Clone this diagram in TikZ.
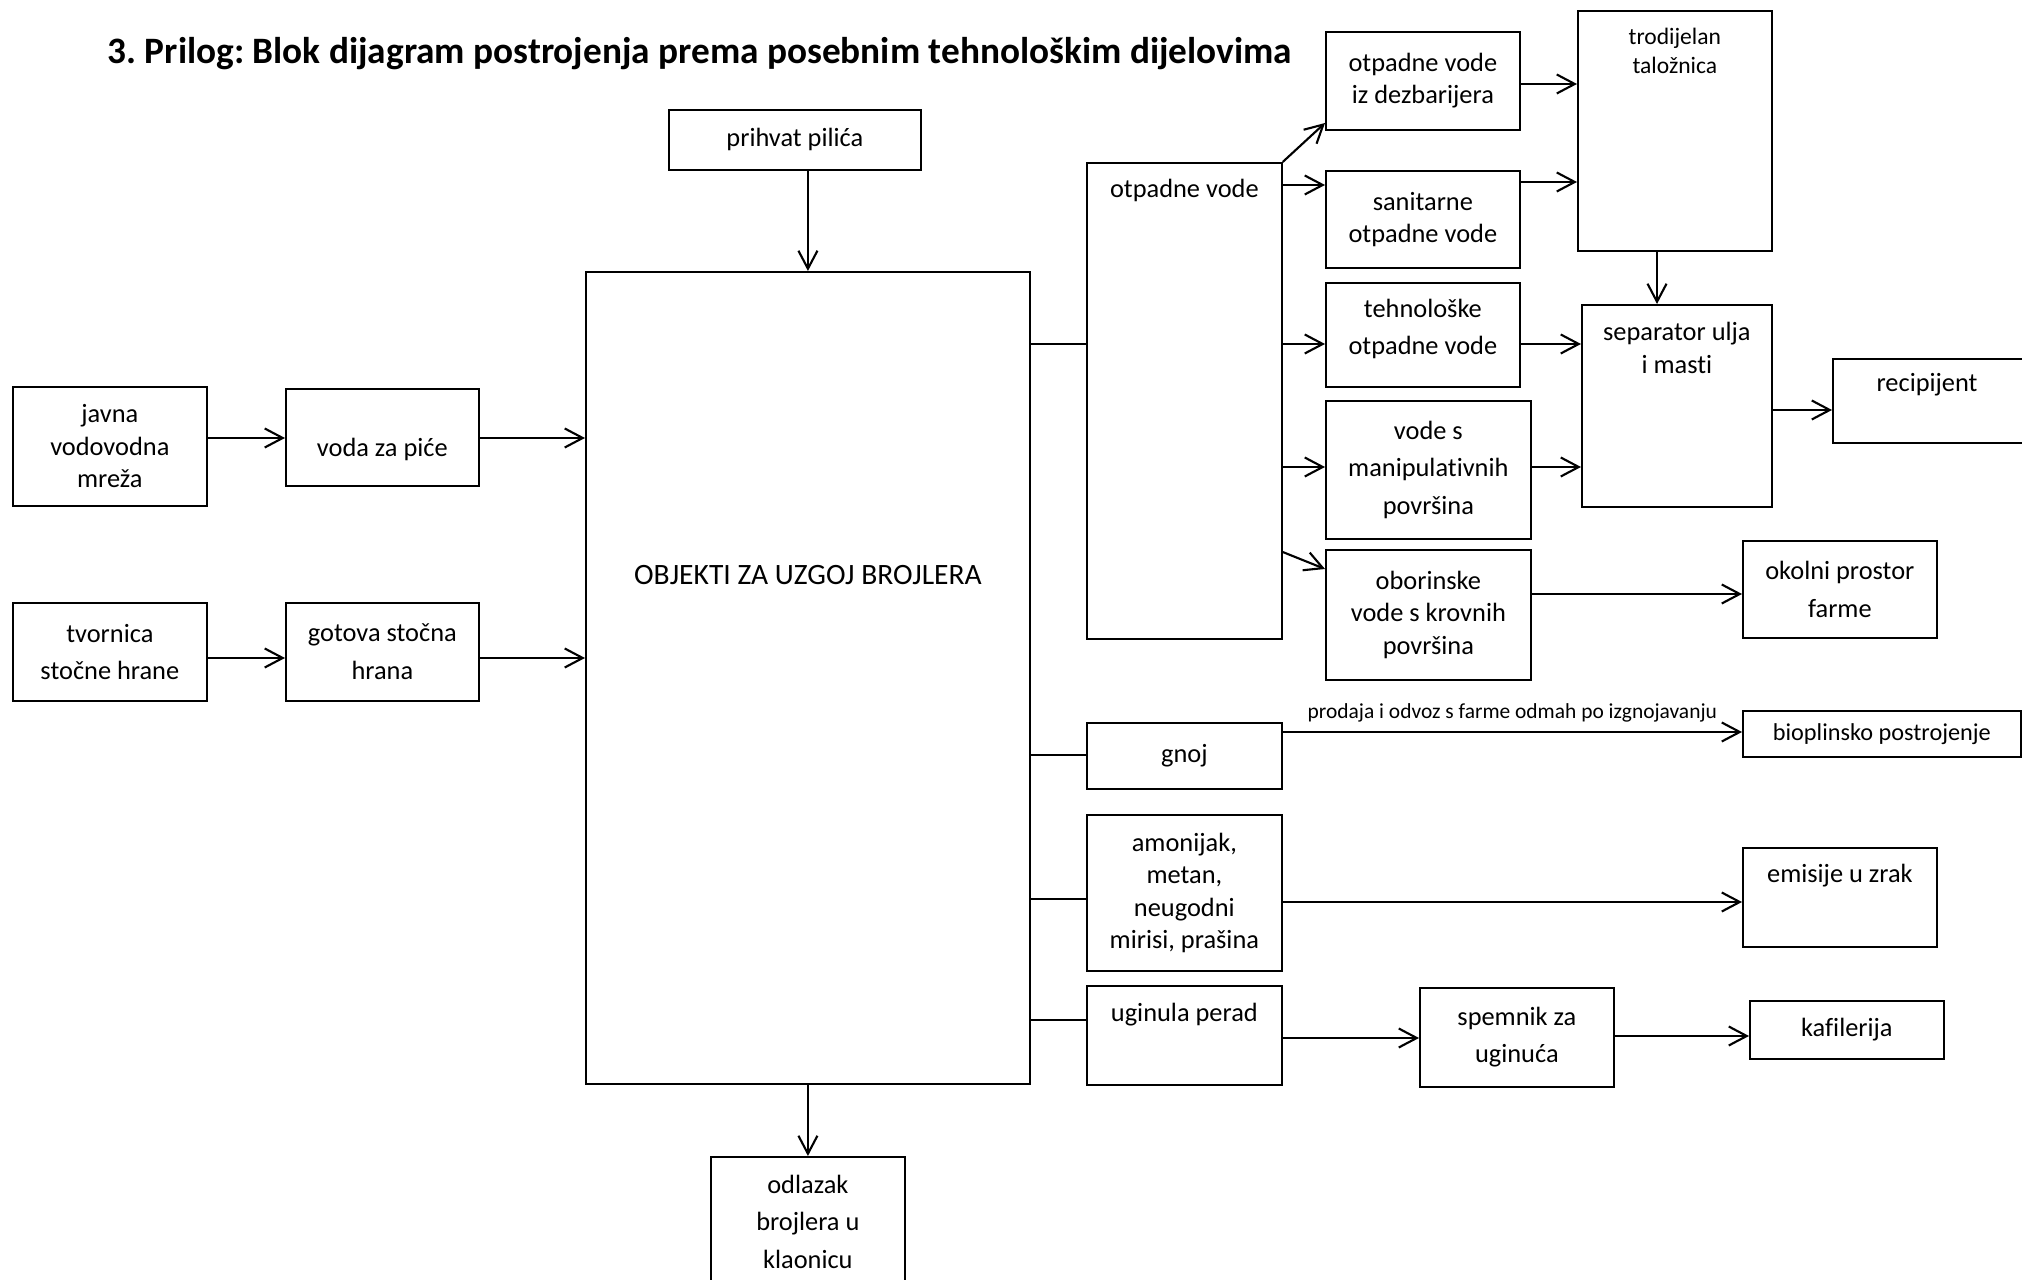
\documentclass[tikz,border=0pt]{standalone}
\usepackage{fontspec}
\setmainfont{Carlito}[Ligatures=NoCommon]
\usetikzlibrary{arrows.meta}
\frenchspacing

\tikzset{
  blok/.style={draw, line width=0.45pt, inner sep=1pt, align=center, anchor=north west},
  tekst/.style={inner sep=0pt, align=center},
  pil/.style={-{Straight Barb[length=1.8mm,width=1.9mm]}, line width=0.6pt},
  veza/.style={line width=0.6pt},
  rijetko/.style={font=\fontsize{7.5}{10.6}\selectfont}
}

\begin{document}
\begin{tikzpicture}[x=0.01cm, y=-0.01cm, font=\fontsize{7.5}{9.2}\selectfont]
    \useasboundingbox (0,0) rectangle (2022,1280);

    % Naslov
    \node[anchor=west, inner sep=0pt, font=\fontsize{10.6}{12}\selectfont\bfseries] (naslov) at (107,54) {3. Prilog: Blok dijagram postrojenja prema posebnim tehnološkim dijelovima};

    % Ulazi
    \node[blok, minimum width=19.4mm, minimum height=11.9mm] (javna) at (12,386) {javna\\vodovodna\\mreža};
    \node[blok, minimum width=19.3mm, minimum height=9.7mm] (voda) at (285,388) {};
    \node[tekst] (voda-t) at ([yshift=-1.2mm]voda.center) {voda za piće};
    \node[blok, rijetko, minimum width=19.4mm, minimum height=9.8mm] (tvornica) at (12,602) {tvornica\\stočne hrane};
    \node[blok, rijetko, minimum width=19.3mm, minimum height=9.8mm] (gotova) at (285,602) {gotova stočna\\hrana};
    \node[blok, minimum width=25.2mm, minimum height=6mm] (prihvat) at (668,109) {prihvat pilića};

    % Objekti za uzgoj
    \node[blok, minimum width=44.4mm, minimum height=81.2mm] (objekti) at (585,271) {};
    \node[tekst, font=\fontsize{8.4}{10}\selectfont] (objekti-t) at ([yshift=10.3mm]objekti.center) {OBJEKTI ZA UZGOJ BROJLERA};
    \node[blok, rijetko, minimum width=19.4mm, minimum height=13mm] (odlazak) at (710,1156) {odlazak\\brojlera u\\klaonicu};

    % Otpadne vode
    \node[blok, minimum width=19.5mm, minimum height=47.6mm] (otpv) at (1086,162) {};
    \node[tekst] (otpv-t) at ([yshift=-2.8mm]otpv.north) {otpadne vode};
    \node[blok, minimum width=19.4mm, minimum height=9.8mm] (dezb) at (1325,31) {otpadne vode\\iz dezbarijera};
    \node[blok, minimum width=19.4mm, minimum height=9.7mm] (sanit) at (1325,170) {sanitarne\\otpadne vode};
    \node[blok, minimum width=19.4mm, minimum height=10.4mm] (tehno) at (1325,282) {};
    \node[tekst, rijetko] (tehno-t) at ([yshift=0.6mm]tehno.center) {tehnološke\\otpadne vode};
    \node[blok, rijetko, minimum width=20.5mm, minimum height=13.8mm] (manip) at (1325,400) {vode s\\manipulativnih\\površina};
    \node[blok, minimum width=20.5mm, minimum height=13mm] (obor) at (1325,549) {oborinske\\vode s krovnih\\površina};
    \node[blok, minimum width=19.4mm, minimum height=24mm] (taloz) at (1577,10) {};
    \node[tekst, font=\fontsize{6.7}{8.2}\selectfont] (taloz-t) at ([yshift=-4.05mm]taloz.north) {trodijelan\\taložnica};
    \node[blok, minimum width=19mm, minimum height=20.2mm] (separ) at (1581,304) {};
    \node[tekst] (separ-t) at ([yshift=-4.4mm]separ.north) {separator ulja\\i masti};
    \node[blok, minimum width=21mm, minimum height=8.4mm] (recip) at (1832,358) {};
    \node[tekst] (recip-t) at ([xshift=9.5mm, yshift=-2.7mm]recip.north west) {recipijent};
    \node[blok, rijetko, minimum width=19.4mm, minimum height=9.7mm] (okolni) at (1742,540) {okolni prostor\\farme};

    % Gnoj, emisije, uginuća
    \node[blok, minimum width=19.5mm, minimum height=6.6mm] (gnoj) at (1086,722) {gnoj};
    \node[blok, font=\fontsize{6.9}{8}\selectfont, minimum width=27.8mm, minimum height=4.6mm] (bioplin) at (1742,710) {bioplinsko postrojenje};
    \node[blok, minimum width=19.5mm, minimum height=15.6mm] (amonijak) at (1086,814) {amonijak,\\metan,\\neugodni\\mirisi, prašina};
    \node[blok, minimum width=19.4mm, minimum height=9.9mm] (emisije) at (1742,847) {};
    \node[tekst] (emisije-t) at ([yshift=-2.9mm]emisije.north) {emisije u zrak};
    \node[blok, minimum width=19.5mm, minimum height=9.9mm] (uginula) at (1086,985) {};
    \node[tekst] (uginula-t) at ([yshift=-3mm]uginula.north) {uginula perad};
    \node[blok, rijetko, minimum width=19.4mm, minimum height=9.9mm] (spemnik) at (1419,987) {spemnik za\\uginuća};
    \node[blok, minimum width=19.4mm, minimum height=5.8mm] (kafil) at (1749,1000) {kafilerija};

    % Ulazi u objekte
    \draw[pil] (javna.east |- 0,438) -- (voda.west |- 0,438);
    \draw[pil] (voda.east |- 0,438) -- (objekti.west |- 0,438);
    \draw[pil] (tvornica.east |- 0,658) -- (gotova.west |- 0,658);
    \draw[pil] (gotova.east |- 0,658) -- (objekti.west |- 0,658);
    \draw[pil] (prihvat.south -| objekti.north) -- (objekti.north);
    \draw[pil] (objekti.south) -- (odlazak.north -| objekti.south);

    % Tokovi otpadnih voda
    \draw[veza] (objekti.east |- 0,344) -- (otpv.west |- 0,344);
    \draw[pil] (otpv.north east) -- (dezb.west |- 0,123);
    \draw[pil] (otpv.east |- 0,185) -- (sanit.west |- 0,185);
    \draw[pil] (otpv.east |- 0,344) -- (tehno.west |- 0,344);
    \draw[pil] (otpv.east |- 0,467) -- (manip.west |- 0,467);
    \draw[pil] (otpv.east |- 0,552) -- (obor.west |- 0,569);
    \draw[pil] (dezb.east |- 0,84) -- (taloz.west |- 0,84);
    \draw[pil] (sanit.east |- 0,182) -- (taloz.west |- 0,182);
    \draw[pil] (taloz.south -| 1657,0) -- (separ.north -| 1657,0);
    \draw[pil] (tehno.east |- 0,344) -- (separ.west |- 0,344);
    \draw[pil] (manip.east |- 0,467) -- (separ.west |- 0,467);
    \draw[pil] (separ.east |- 0,410) -- (recip.west |- 0,410);
    \draw[pil] (obor.east |- 0,594) -- (okolni.west |- 0,594);

    % Ostali tokovi
    \draw[veza] (objekti.east |- 0,755) -- (gnoj.west |- 0,755);
    \draw[pil] (gnoj.east |- 0,732) -- (bioplin.west |- 0,732)
        node[midway, above=0.9mm, inner sep=0pt, font=\fontsize{6.1}{7}\selectfont] (prodaja) {prodaja i odvoz s farme odmah po izgnojavanju};
    \draw[veza] (objekti.east |- 0,899) -- (amonijak.west |- 0,899);
    \draw[pil] (amonijak.east |- 0,902) -- (emisije.west |- 0,902);
    \draw[veza] (objekti.east |- 0,1020) -- (uginula.west |- 0,1020);
    \draw[pil] (uginula.east |- 0,1038) -- (spemnik.west |- 0,1038);
    \draw[pil] (spemnik.east |- 0,1036) -- (kafil.west |- 0,1036);
\end{tikzpicture}
\end{document}
